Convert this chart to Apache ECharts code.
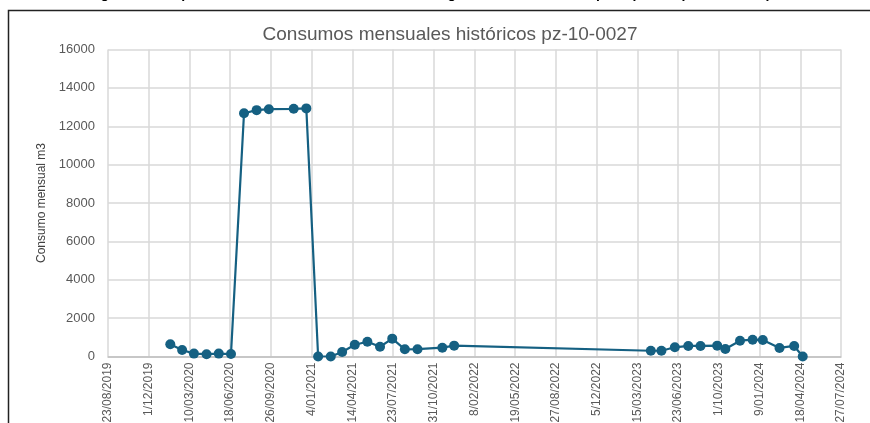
<!DOCTYPE html>
<html lang="es">
<head>
    <meta charset="UTF-8">
    <title>Consumos mensuales</title>
    <script src="https://cdn.jsdelivr.net/npm/echarts@6/dist/echarts.min.js"></script>
</head>
<style>
html,body{margin: 0;padding: 0;background: #fff}
#chartBox{width: 870px;height: 423px}
</style>
<body>
    <div id="chartBox"></div>
</body>
<script>
// fechas de lectura (aprox.)
const fechas = [
    '2020-01-23','2020-02-21','2020-03-21','2020-04-21','2020-05-21','2020-06-20',
    '2020-07-22','2020-08-22','2020-09-21','2020-11-21','2020-12-22',
    '2021-01-20','2021-02-20','2021-03-20','2021-04-20','2021-05-21','2021-06-21',
    '2021-07-21','2021-08-21','2021-09-21','2021-11-21','2021-12-20',
    '2023-04-17','2023-05-13','2023-06-15','2023-07-18','2023-08-17','2023-09-27',
    '2023-10-17','2023-11-22','2023-12-23','2024-01-17','2024-02-27','2024-04-03','2024-04-24'
];
// consumo mensual m3
const consumos = [
    640, 340, 150, 120, 150, 130,
    12680, 12840, 12890, 12910, 12930,
    0, 0, 235, 615, 770, 510,
    930, 375, 380, 460, 565,
    300, 300, 480, 550, 550, 565,
    390, 825, 875, 860, 445, 550, 0
];
const fechaInicio = '2019-08-23';
const fechaFin = '2024-07-27';
const tituloGrafico = 'Consumos mensuales históricos pz-10-0027';
const nombreEjeY = 'Consumo mensual m3';
const pieFigura = 'Figura 4. Comportamiento histórico del consumo de agua subterránea en el pozo para el periodo de operación';

const DIA = 86400000;
function aDias(s) {
    let p = s.split('-').map(Number);
    let base = fechaInicio.split('-').map(Number);
    return Math.round((Date.UTC(p[0], p[1]-1, p[2]) - Date.UTC(base[0], base[1]-1, base[2])) / DIA);
}
function etiquetaFecha(d) {
    let base = fechaInicio.split('-').map(Number);
    let f = new Date(Date.UTC(base[0], base[1]-1, base[2]) + d * DIA);
    let mes = String(f.getUTCMonth() + 1).padStart(2, '0');
    return f.getUTCDate() + '/' + mes + '/' + f.getUTCFullYear();
}

let chartObj = echarts.init(document.getElementById('chartBox'));
let option = {
    animation: false,
    graphic: [
        {
            type: 'text', left: 88, top: -13,
            style: {text: pieFigura, fill: '#000', font: 'bold 14px "Liberation Sans", Arial'}
        },
        {
            type: 'rect', shape: {x: 8.5, y: 10.5, width: 900, height: 500},
            style: {fill: 'none', stroke: '#222', lineWidth: 1.5}
        }
    ],
    title: {
        text: tituloGrafico,
        left: 445, top: 20, textAlign: 'center',
        textStyle: {color: '#595959', fontSize: 19, fontWeight: 'normal', fontFamily: '"Liberation Sans", Arial'}
    },
    grid: {left: 108, right: 29, top: 49.5, bottom: 66.5, outerBoundsMode: 'none', containLabel: false},
    xAxis: {
        type: 'value',
        min: 0,
        max: aDias(fechaFin),
        interval: 100,
        axisLine: {show: true, lineStyle: {color: '#bfbfbf', width: 1.5}},
        axisTick: {show: false},
        splitLine: {show: true, lineStyle: {color: '#d9d9d9', width: 1.5}},
        axisLabel: {
            rotate: 90, margin: 6, color: '#595959', fontSize: 12,
            fontFamily: '"Liberation Sans Narrow", "Liberation Sans", Arial',
            showMinLabel: true, showMaxLabel: true,
            formatter: v => etiquetaFecha(v)
        }
    },
    yAxis: {
        type: 'value',
        min: 0, max: 16000, interval: 2000,
        name: nombreEjeY,
        nameLocation: 'middle',
        nameGap: 60,
        nameTextStyle: {color: '#404040', fontSize: 12, fontFamily: '"Liberation Sans Narrow", "Liberation Sans", Arial'},
        axisLine: {show: false},
        axisTick: {show: false},
        splitLine: {lineStyle: {color: '#d9d9d9', width: 1.5}},
        axisLabel: {color: '#595959', fontSize: 13, margin: 13, fontFamily: '"Liberation Sans", Arial',
            formatter: v => String(v)}
    },
    series: [{
        type: 'line',
        data: fechas.map((f, i) => [aDias(f), consumos[i]]),
        symbol: 'circle',
        symbolSize: 10,
        itemStyle: {color: '#156082'},
        lineStyle: {color: '#156082', width: 2.2}
    }]
};
chartObj.setOption(option);
</script>
</html>
